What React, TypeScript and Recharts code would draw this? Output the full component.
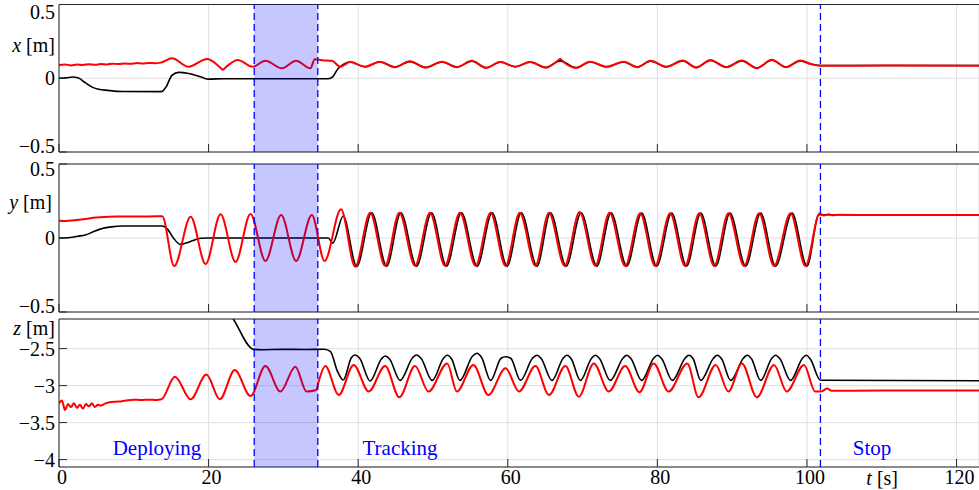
import {
  CartesianGrid,
  Line,
  LineChart,
  ReferenceArea,
  ReferenceDot,
  ReferenceLine,
  XAxis,
  YAxis,
} from 'recharts'

const FONT = 'Liberation Serif, Times New Roman, serif'
const FRAME = '#262626'
const GRID = '#e0e0e0'
const RED = '#ff0000'
const BLUE = '#0000ff'

const T_TICKS = [0, 20, 40, 60, 80, 100, 120]
const T_DOMAIN: [number, number] = [0, 123]
const XY_TICKS = [-0.5, 0, 0.5]
const XY_DOMAIN: [number, number] = [-0.5, 0.5]
const Z_TICKS = [-4, -3.5, -3, -2.5]
const Z_DOMAIN: [number, number] = [-4.1, -2.1]

// phase markers [s]
const HOLD_START = 26.1
const HOLD_END = 34.6
const STOP_T = 101.8
const PHASE_LABELS = ['Deploying', 'Tracking', 'Stop']
const PHASE_T = [13.1, 45.6, 108.7]
const PHASE_Z = -3.84

type Pt = [number, number]

/* x [m] */
const X_REF: Pt[] = [
  [0, 0], [1, 0.003], [1.8, 0.008], [2.6, 0.002], [3.5, -0.03], [4.5, -0.062], [5.3, -0.075],
  [6.5, -0.082], [8.5, -0.09], [13.7, -0.091], [14.3, -0.06], [15.1, 0.02], [16, 0.04],
  [17.5, 0.03], [19, 0.008], [20, -0.006], [22, -0.003], [36, -0.003], [36.6, 0.01],
  [37.3, 0.065], [37.9, 0.09], [38.9, 0.11], [40.9, 0.078], [42.9, 0.11], [44.9, 0.076],
  [46.9, 0.113], [49, 0.074], [51.2, 0.11], [53.2, 0.076], [55.2, 0.115], [57.1, 0.072],
  [59, 0.11], [61, 0.078], [63, 0.11], [65.1, 0.074], [67, 0.118], [69.1, 0.072], [71, 0.11],
  [73.2, 0.078], [75.5, 0.11], [77.3, 0.076], [79.1, 0.116], [81.2, 0.078], [83.4, 0.118],
  [85.2, 0.074], [87.1, 0.12], [89.2, 0.076], [91.3, 0.118], [93.3, 0.07], [95.3, 0.122],
  [97.2, 0.076], [99.1, 0.118], [100.6, 0.095], [101.8, 0.086], [123, 0.086],
]
const X_MEAS: Pt[] = [
  [0, 0.09], [0.8, 0.094], [1.6, 0.087], [2.4, 0.093], [3.2, 0.09], [4, 0.095], [4.8, 0.091],
  [5.6, 0.096], [6.4, 0.094], [7.2, 0.099], [8, 0.096], [8.8, 0.1], [9.6, 0.098], [10.4, 0.103],
  [11.2, 0.1], [12, 0.104], [12.8, 0.102], [13.6, 0.106], [15.1, 0.135], [17.3, 0.078],
  [19.8, 0.13], [21.5, 0.075], [21.9, 0.058], [22.3, 0.075], [23.9, 0.124], [25.9, 0.078],
  [27.6, 0.119], [29.8, 0.067], [31.7, 0.119], [33.6, 0.067], [34.2, 0.128], [35.2, 0.122],
  [36.5, 0.118], [37.6, 0.078], [38.9, 0.11], [40.9, 0.078], [42.9, 0.112], [44.9, 0.075],
  [46.9, 0.115], [49, 0.072], [51.2, 0.112], [53.2, 0.075], [55.2, 0.118], [57.1, 0.07],
  [59, 0.11], [61, 0.078], [63, 0.11], [65.1, 0.072], [66.5, 0.112], [67, 0.13], [67.5, 0.108],
  [69.1, 0.07], [71, 0.112], [73.2, 0.078], [75.5, 0.112], [77.3, 0.075], [79.1, 0.118],
  [81.2, 0.078], [83.4, 0.12], [85.2, 0.072], [87.1, 0.124], [89.2, 0.075], [91.3, 0.12],
  [93.3, 0.068], [95.3, 0.125], [97.2, 0.075], [99.1, 0.12], [100.6, 0.095], [101.8, 0.085],
  [110, 0.086], [123, 0.085],
]

/* y [m] */
const Y_REF: Pt[] = [
  [0, 0], [1.5, 0.003], [2.5, 0.012], [3.5, 0.02], [4.5, 0.04], [5.5, 0.06], [7, 0.075],
  [8.5, 0.081], [13.8, 0.081], [14.5, 0.06], [15.3, 0], [16.2, -0.043], [17.5, -0.025],
  [19, -0.002], [20, 0], [36, 0], [36.6, -0.035], [38, 0.149], [39.8, -0.192], [41.8, 0.171],
  [43.8, -0.19], [45.7, 0.171], [47.8, -0.19], [49.8, 0.171], [51.8, -0.19], [53.8, 0.171],
  [55.9, -0.19], [57.9, 0.171], [59.9, -0.19], [61.8, 0.171], [63.9, -0.19], [65.7, 0.171],
  [67.8, -0.19], [69.8, 0.171], [71.9, -0.19], [73.8, 0.171], [75.9, -0.19], [77.9, 0.168],
  [79.9, -0.19], [81.9, 0.168], [83.9, -0.19], [85.8, 0.168], [87.8, -0.19], [89.7, 0.168],
  [91.8, -0.19], [93.8, 0.168], [95.8, -0.19], [98, 0.168], [100, -0.19], [101.6, 0.157],
  [123, 0.157],
]
const Y_MEAS: Pt[] = [
  [0, 0.117], [1, 0.115], [2, 0.12], [3, 0.125], [4, 0.132], [5, 0.138], [6, 0.142], [8, 0.145],
  [10, 0.146], [12, 0.146], [13.8, 0.147], [15.4, -0.19], [17.6, 0.144], [19.6, -0.176],
  [21.6, 0.16], [23.6, -0.162], [25.6, 0.162], [27.6, -0.155], [29.7, 0.155], [31.7, -0.155],
  [33.8, 0.155], [35.5, -0.155], [37.7, 0.194], [39.6, -0.194], [41.6, 0.171], [43.6, -0.187],
  [45.5, 0.171], [47.6, -0.187], [49.6, 0.171], [51.6, -0.187], [53.6, 0.171], [55.7, -0.187],
  [57.7, 0.171], [59.7, -0.187], [61.6, 0.171], [63.7, -0.187], [65.5, 0.171], [67.6, -0.187],
  [69.6, 0.175], [71.7, -0.187], [73.6, 0.171], [75.7, -0.189], [77.7, 0.167], [79.7, -0.189],
  [81.7, 0.167], [83.7, -0.189], [85.6, 0.167], [87.6, -0.189], [89.5, 0.167], [91.6, -0.189],
  [93.6, 0.167], [95.6, -0.189], [97.8, 0.167], [99.8, -0.189], [101.7, 0.165], [102.3, 0.152],
  [102.9, 0.16], [103.5, 0.153], [104.2, 0.157], [110, 0.155], [123, 0.155],
]

/* z [m] */
const Z_REF: Pt[] = [
  [20, -1.6], [23.3, -2.1], [26, -2.51], [27, -2.515], [30, -2.51], [33, -2.512], [35.5, -2.508],
  [36.3, -2.54], [37.2, -2.8], [38, -2.924], [39.1, -2.62], [39.6, -2.586], [40.2, -2.63],
  [41.6, -2.938], [43.1, -2.64], [43.6, -2.6], [44.2, -2.64], [45.6, -2.93], [47.3, -2.62],
  [47.8, -2.586], [48.4, -2.63], [49.9, -2.93], [51.4, -2.63], [51.9, -2.59], [52.5, -2.64],
  [53.6, -2.93], [55.3, -2.6], [55.9, -2.563], [56.5, -2.62], [57.7, -2.93], [59.1, -2.63],
  [59.7, -2.61], [60.4, -2.63], [61.7, -2.93], [63.3, -2.63], [63.9, -2.59], [64.5, -2.64],
  [65.9, -2.93], [67.4, -2.63], [67.9, -2.59], [68.5, -2.64], [69.7, -2.93], [71.2, -2.63],
  [71.7, -2.59], [72.3, -2.64], [73.7, -2.93], [75.4, -2.63], [75.9, -2.59], [76.5, -2.64],
  [77.9, -2.93], [79.5, -2.63], [80, -2.59], [80.6, -2.64], [82, -2.93], [83.7, -2.63],
  [84.2, -2.59], [84.8, -2.64], [85.8, -2.93], [87.5, -2.63], [88, -2.59], [88.6, -2.64],
  [89.8, -2.93], [91.5, -2.63], [92, -2.59], [92.6, -2.64], [93.8, -2.93], [95.3, -2.63],
  [95.8, -2.59], [96.4, -2.64], [97.8, -2.93], [99.4, -2.63], [99.9, -2.59], [100.5, -2.65],
  [101.8, -2.928], [123, -2.934],
]
const Z_MEAS: Pt[] = [
  [0, -3.24], [0.4, -3.2], [0.8, -3.33], [1.2, -3.25], [1.6, -3.29], [2, -3.24], [2.4, -3.3],
  [2.8, -3.26], [3.2, -3.31], [3.6, -3.25], [4, -3.28], [4.4, -3.24], [4.8, -3.29], [5.2, -3.26],
  [5.6, -3.27], [6.2, -3.24], [7, -3.22], [8, -3.215], [9, -3.2], [10, -3.19], [11, -3.195],
  [12, -3.19], [13, -3.195], [13.7, -3.185], [15.5, -2.88], [17.6, -3.185], [19.7, -2.85],
  [21.5, -3.185], [23.5, -2.79], [25.6, -3.14], [27.6, -2.735], [29.6, -3.08], [31.6, -2.745],
  [33.1, -3.08], [34.4, -3.06], [34.7, -2.95], [35.6, -2.735], [37.4, -3.127], [39.4, -2.72],
  [41.4, -3.08], [43.6, -2.735], [45.5, -3.158], [47.6, -2.735], [49.4, -3.08], [51.9, -2.7],
  [53.2, -3.08], [55.4, -2.72], [57.4, -3.127], [59.7, -2.766], [61.5, -3.08], [63.7, -2.735],
  [65.5, -3.127], [67.7, -2.735], [69.5, -3.15], [71.5, -2.7], [73.5, -3.08], [75.7, -2.735],
  [77.6, -3.09], [79.5, -2.7], [81.5, -3.08], [84, -2.7], [85.5, -3.158], [87.8, -2.72],
  [89.5, -3.08], [91.3, -2.7], [93.3, -3.158], [95.6, -2.72], [97.3, -3.08], [99.6, -2.72],
  [101.1, -3.08], [102, -3.075], [102.7, -3.04], [103.3, -3.07], [110, -3.066], [123, -3.066],
]

const pts = (a: Pt[]) => a.map(([t, v]) => ({ t, v }))
const fmtNum = (v: number) => (v < 0 ? `\u2212${Math.abs(v)}` : `${v}`)

function YTick(props: any) {
  const { x, y, payload, shift } = props
  const dy = (shift && shift[String(payload.value)]) || 0
  return (
    <text
      x={x}
      y={y + dy}
      dy="0.35em"
      textAnchor="end"
      fill="#000"
      fontSize={20}
      fontFamily={FONT}
    >
      {fmtNum(payload.value)}
    </text>
  )
}

function TTick(props: any) {
  const { x, y, payload } = props
  return (
    <text
      x={x + 3}
      y={y}
      dy="0.71em"
      textAnchor="middle"
      fill="#000"
      fontSize={20}
      fontFamily={FONT}
    >
      {payload.value}
    </text>
  )
}

const noTick = () => <g />

type PanelProps = {
  top: number
  height: number
  padTop: number
  padBottom: number
  domain: [number, number]
  ticks: number[]
  shift?: Record<string, number>
  refData: Pt[]
  measData: Pt[]
  showT?: boolean
}

function Panel({ top, height, padTop, padBottom, domain, ticks, shift, refData, measData, showT }: PanelProps) {
  return (
    <div style={{ position: 'absolute', left: 0, top }}>
      <LineChart width={979} height={height} margin={{ top: 0, right: 0, bottom: 0, left: 0 }}>
        <CartesianGrid stroke={GRID} />
        <XAxis
          dataKey="t"
          type="number"
          domain={T_DOMAIN}
          ticks={T_TICKS}
          interval={0}
          allowDataOverflow
          height={padBottom}
          tickSize={-8}
          tickMargin={11}
          tickLine={{ stroke: FRAME }}
          axisLine={{ stroke: FRAME }}
          tick={showT ? (p: any) => <TTick {...p} /> : noTick}
        />
        <XAxis
          xAxisId="top"
          orientation="top"
          type="number"
          domain={T_DOMAIN}
          ticks={T_TICKS}
          interval={0}
          allowDataOverflow
          height={padTop}
          tickSize={-8}
          tickLine={{ stroke: FRAME }}
          axisLine={{ stroke: FRAME }}
          tick={noTick}
        />
        <YAxis
          type="number"
          domain={domain}
          ticks={ticks}
          interval={0}
          allowDataOverflow
          width={59}
          tickSize={-8}
          tickMargin={12}
          tickLine={{ stroke: FRAME }}
          axisLine={{ stroke: FRAME }}
          tick={(p: any) => <YTick {...p} shift={shift} />}
        />
        <YAxis
          yAxisId="right"
          orientation="right"
          type="number"
          domain={domain}
          ticks={ticks}
          interval={0}
          allowDataOverflow
          width={0}
          tickSize={-8}
          tickLine={{ stroke: FRAME }}
          axisLine={{ stroke: FRAME }}
          tick={noTick}
        />
        <Line
          data={pts(refData)}
          dataKey="v"
          type="monotone"
          stroke="#000"
          strokeWidth={1.6}
          dot={false}
          activeDot={false}
          isAnimationActive={false}
        />
        <Line
          data={pts(measData)}
          dataKey="v"
          type="monotone"
          stroke={RED}
          strokeWidth={2}
          dot={false}
          activeDot={false}
          isAnimationActive={false}
        />
        {showT &&
          PHASE_LABELS.map((label, i) => (
            <ReferenceDot
              key={label}
              x={PHASE_T[i]}
              y={PHASE_Z}
              r={0}
              fill="none"
              stroke="none"
              label={{
                value: label,
                position: 'center',
                fill: BLUE,
                fontSize: 21,
                fontFamily: FONT,
              }}
            />
          ))}
      </LineChart>
    </div>
  )
}

/* shaded hold window and phase boundaries, drawn over the traces */
function PhaseOverlay({ top, height, padTop, padBottom, domain }: PanelProps) {
  return (
    <div style={{ position: 'absolute', left: 0, top, pointerEvents: 'none' }}>
      <LineChart
        width={979}
        height={height}
        margin={{ top: padTop, right: 0, bottom: padBottom, left: 59 }}
      >
        <XAxis type="number" dataKey="t" domain={T_DOMAIN} allowDataOverflow hide />
        <YAxis type="number" domain={domain} allowDataOverflow hide />
        <ReferenceArea x1={HOLD_START} x2={HOLD_END} fill={BLUE} fillOpacity={0.22} stroke="none" />
        <ReferenceLine x={HOLD_START} stroke={BLUE} strokeWidth={1.3} strokeDasharray="7 4" />
        <ReferenceLine x={HOLD_END} stroke={BLUE} strokeWidth={1.3} strokeDasharray="7 4" />
        <ReferenceLine x={STOP_T} stroke={BLUE} strokeWidth={1.3} strokeDasharray="7 4" />
      </LineChart>
    </div>
  )
}

const PANELS: PanelProps[] = [
  {
    top: 0,
    height: 160,
    padTop: 4.5,
    padBottom: 8,
    domain: XY_DOMAIN,
    ticks: XY_TICKS,
    shift: { '0.5': 7, '-0.5': -6 },
    refData: X_REF,
    measData: X_MEAS,
  },
  {
    top: 150,
    height: 170,
    padTop: 14,
    padBottom: 8,
    domain: XY_DOMAIN,
    ticks: XY_TICKS,
    shift: { '0.5': 5, '-0.5': -6 },
    refData: Y_REF,
    measData: Y_MEAS,
  },
  {
    top: 300,
    height: 190,
    padTop: 19,
    padBottom: 23,
    domain: Z_DOMAIN,
    ticks: Z_TICKS,
    refData: Z_REF,
    measData: Z_MEAS,
    showT: true,
  },
]

const titleStyle = (top: number, right: number): React.CSSProperties => ({
  position: 'absolute',
  left: 0,
  top,
  width: right,
  textAlign: 'right',
  fontSize: 20,
  lineHeight: '22px',
  fontFamily: FONT,
  color: '#000',
  whiteSpace: 'nowrap',
})

export default function App() {
  return (
    <div
      style={{
        position: 'absolute',
        left: 0,
        top: 0,
        width: 979,
        height: 490,
        background: '#fff',
        overflow: 'hidden',
      }}
    >
      {PANELS.map((p, i) => (
        <Panel key={`p${i}`} {...p} />
      ))}
      {PANELS.map((p, i) => (
        <PhaseOverlay key={`o${i}`} {...p} />
      ))}
      <div style={titleStyle(34, 55)}>
        <i>x</i> [m]
      </div>
      <div style={titleStyle(191, 52)}>
        <i>y</i> [m]
      </div>
      <div style={titleStyle(317, 55)}>
        <i>z</i> [m]
      </div>
      <div style={titleStyle(467, 898)}>
        <i>t</i> [s]
      </div>
    </div>
  )
}
